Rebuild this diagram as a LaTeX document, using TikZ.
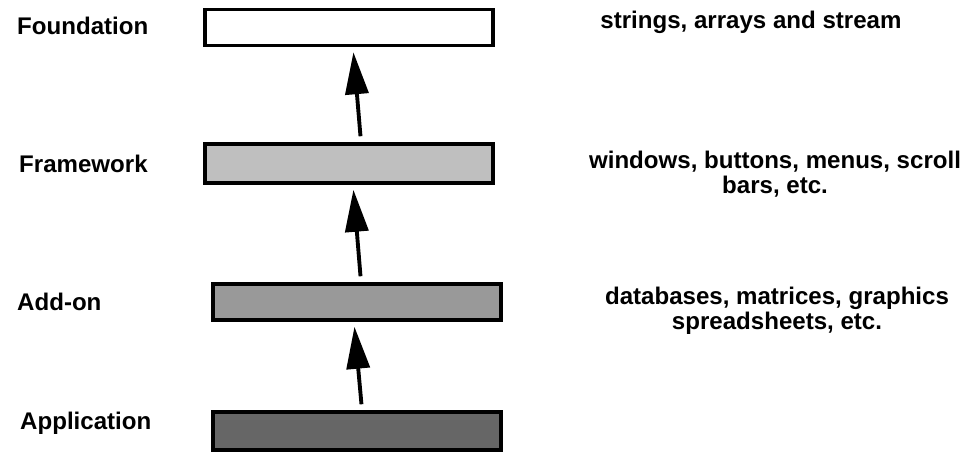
\documentclass[tikz,border=0pt]{standalone}
\usepackage{fontspec}
\setmainfont{Liberation Sans}
\usetikzlibrary{arrows.meta,positioning}

\begin{document}
\begin{tikzpicture}[font=\fontsize{13.7}{14.5}\selectfont\bfseries,
  layer/.style={draw,line width=2pt,minimum width=5.76cm,minimum height=0.72cm,inner sep=0pt},
  up/.style={-{Triangle[length=0.84cm,width=0.46cm]},line width=2.2pt,shorten <=0.12cm,shorten >=0.1cm}]
\useasboundingbox (0,0) rectangle (19.38,9.02);
% layers
\node[layer,fill=white] (fd) at (6.98,8.47){};
\node[layer,fill=black!25,minimum height=0.78cm] (fw) at (6.98,5.75){};
\node[layer,fill=black!40] (ao) at (7.14,2.98){};
\node[layer,fill=black!60,minimum height=0.76cm] (ap) at (7.14,0.40){};
% names on the left
\node[anchor=west] (fdn) at (0.22,8.51){Foundation};
\node[anchor=west] (fwn) at (0.26,5.74){Framework};
\node[anchor=west] (aon) at (0.22,2.98){Add-on};
\node[anchor=west] (apn) at (0.28,0.56){Application};
% contents on the right
\node (fdt) at (15.02,8.58){strings, arrays and stream};
\node[align=center] (fwt) at (15.50,5.54){windows, buttons, menus, scroll\\bars, etc.};
\node[align=center] (aot) at (15.54,2.80){databases, matrices, graphics\\spreadsheets, etc.};
% arrows
\draw[up] ([xshift=0.24cm]fw.north) -- ([xshift=0.08cm]fd.south);
\draw[up] ([xshift=0.08cm]ao.north) -- ([xshift=0.08cm]fw.south);
\draw[up] ([xshift=0.10cm]ap.north) -- ([xshift=-0.06cm]ao.south);
\end{tikzpicture}
\end{document}
